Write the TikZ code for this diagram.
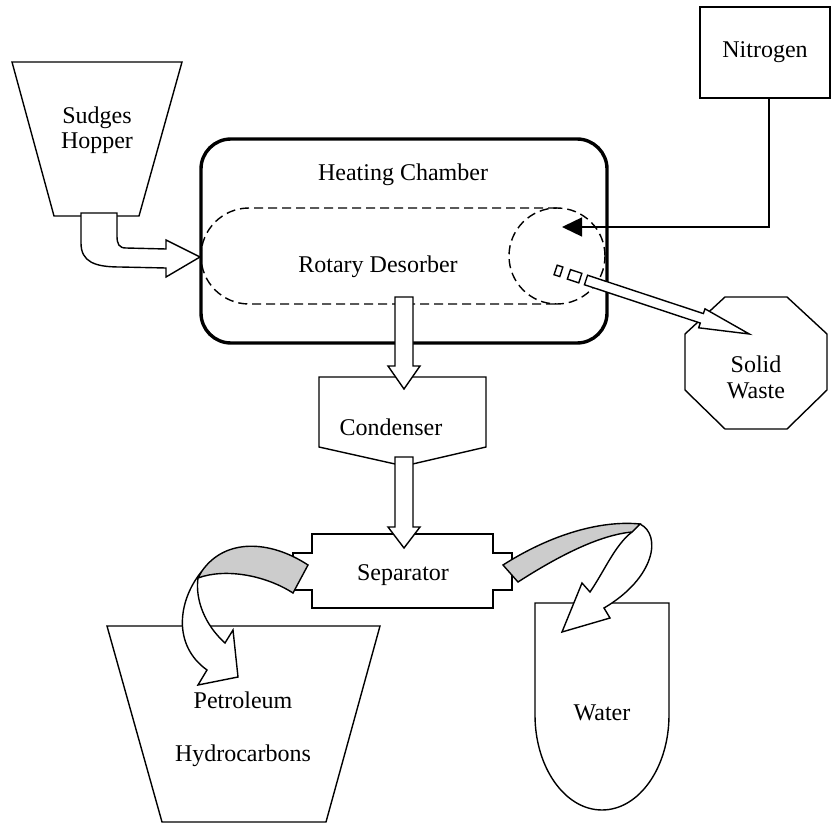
\documentclass[tikz,border=0pt]{standalone}
\usepackage{fontspec}
\setmainfont{Liberation Serif}
\usetikzlibrary{arrows.meta}
\begin{document}
\begin{tikzpicture}[x=0.5pt,y=0.5pt,
  lbl/.style={inner sep=0pt, font=\fontsize{12}{14}\selectfont},
  outl/.style={line width=0.7pt, line join=miter},
  thick outl/.style={line width=1.7pt},
  dsh/.style={dash pattern=on 4.5pt off 2.5pt},
  blockarrow/.style={outl, fill=white},
  band/.style={outl, fill=gray!40}
]
\useasboundingbox (0,0) rectangle (831,-824);

% ---------- Sludges hopper ----------
\draw[outl] (12,-62) -- (182,-62) -- (139,-216) -- (54,-216) -- cycle;
\node[lbl] (sudges) at (97,-118) {Sudges};
\node[lbl] (hopper) at (97,-143) {Hopper};

% ---------- Heating chamber ----------
\draw[thick outl, rounded corners=15pt] (201,-139) rectangle (607,-343);
\node[lbl] (heat) at (403,-175) {Heating Chamber};

% ---------- Rotary desorber ----------
\draw[outl, dsh] (557,-208) -- (249,-208) arc[start angle=90, end angle=270, radius=48] -- (557,-304);
\draw[outl, dsh] (557,-256) circle[radius=48];
\node[lbl] (rotary) at (378,-267) {Rotary Desorber};

% ---------- Nitrogen ----------
\node[lbl, draw, outl, minimum width=65pt, minimum height=45.5pt] (nit) at (765,-52.5) {Nitrogen};
\coordinate (ntip) at (562,-227);
\draw[outl, -{Triangle[length=10pt,width=9.5pt]}] ([xshift=2pt]nit.south) |- (ntip);

% ---------- Solid waste ----------
\draw[outl] (725,-297) -- (787,-297) -- (827,-334) -- (827,-390) -- (787,-429)
  -- (725,-429) -- (685,-390) -- (685,-334) -- cycle;
\node[lbl] (solid) at (756,-364) {Solid};
\node[lbl] (waste) at (756,-391) {Waste};

% striped arrow to solid waste
\begin{scope}[shift={(586,-280)}, rotate=-18.3]
  \draw[blockarrow] (0,5) -- (122,5) -- (122,10) -- (172,0) -- (122,-10) -- (122,-5) -- (0,-5) -- cycle;
  \draw[blockarrow] (-18,5) rectangle (-6,-5);
  \draw[blockarrow] (-32,5) rectangle (-26,-5);
\end{scope}

% ---------- Condenser ----------
\draw[outl] (319,-377) -- (486,-377) -- (486,-447) -- (404,-466) -- (319,-447) -- cycle;
\node[lbl] (cond) at (391,-427) {Condenser};

% ---------- Separator ----------
\draw[outl] (312,-534) -- (493,-534) -- (493,-553) -- (512,-553) -- (512,-590) -- (493,-590)
  -- (493,-608) -- (312,-608) -- (312,-590) -- (293,-590) -- (293,-553) -- (312,-553) -- cycle;
\node[lbl] (sep) at (403,-575) {Separator};

% ---------- Petroleum hydrocarbons ----------
\draw[outl] (107,-626) -- (380,-626) -- (326,-822) -- (162,-822) -- cycle;
\node[lbl] (petro) at (243,-700) {Petroleum};
\node[lbl] (hydro) at (243,-756) {Hydrocarbons};

% ---------- Water ----------
\draw[outl] (535,-715) -- (535,-603) -- (669,-603) -- (669,-715)
  arc[start angle=0, end angle=-180, x radius=67, y radius=95];
\node[lbl] (water) at (602,-713) {Water};

% ---------- block arrows ----------
% hopper -> chamber
\draw[blockarrow] (81,-213) -- (81,-243) .. controls (81,-262) and (95,-267) .. (120,-267)
  -- (166,-268) -- (166,-277) -- (200,-257) -- (166,-240) -- (166,-249) -- (126,-248)
  .. controls (119,-248) and (117,-244) .. (117,-236) -- (117,-213) -- cycle;

% desorber -> condenser
\draw[blockarrow] (395,-297) -- (413,-297) -- (413,-366) -- (420,-366) -- (404,-389)
  -- (388,-366) -- (395,-366) -- cycle;

% condenser -> separator
\draw[blockarrow] (395,-457) -- (413,-457) -- (413,-527) -- (420,-527) -- (404,-548)
  -- (388,-527) -- (395,-527) -- cycle;

% separator -> petroleum (twisted curved arrow)
\draw[blockarrow] (202,-571) .. controls (178,-600) and (172,-645) .. (207,-670)
  -- (198,-685) -- (238,-677) -- (233,-630) -- (225,-643)
  .. controls (205,-625) and (195,-600) .. (198,-578) -- cycle;
\draw[band] (308,-565) .. controls (270,-540) and (225,-538) .. (202,-571)
  -- (198,-578) .. controls (225,-568) and (265,-575) .. (293,-593) -- cycle;

% separator -> water (twisted curved arrow)
\draw[blockarrow] (640,-524) .. controls (662,-535) and (655,-578) .. (604,-608)
  -- (610,-618) -- (562,-632) -- (582,-583) -- (590,-592)
  .. controls (605,-570) and (615,-545) .. (632,-532) -- cycle;
\draw[band] (503,-565) .. controls (550,-535) and (600,-520) .. (640,-524)
  -- (632,-532) .. controls (600,-535) and (560,-555) .. (518,-582) -- cycle;

\end{tikzpicture}
\end{document}
